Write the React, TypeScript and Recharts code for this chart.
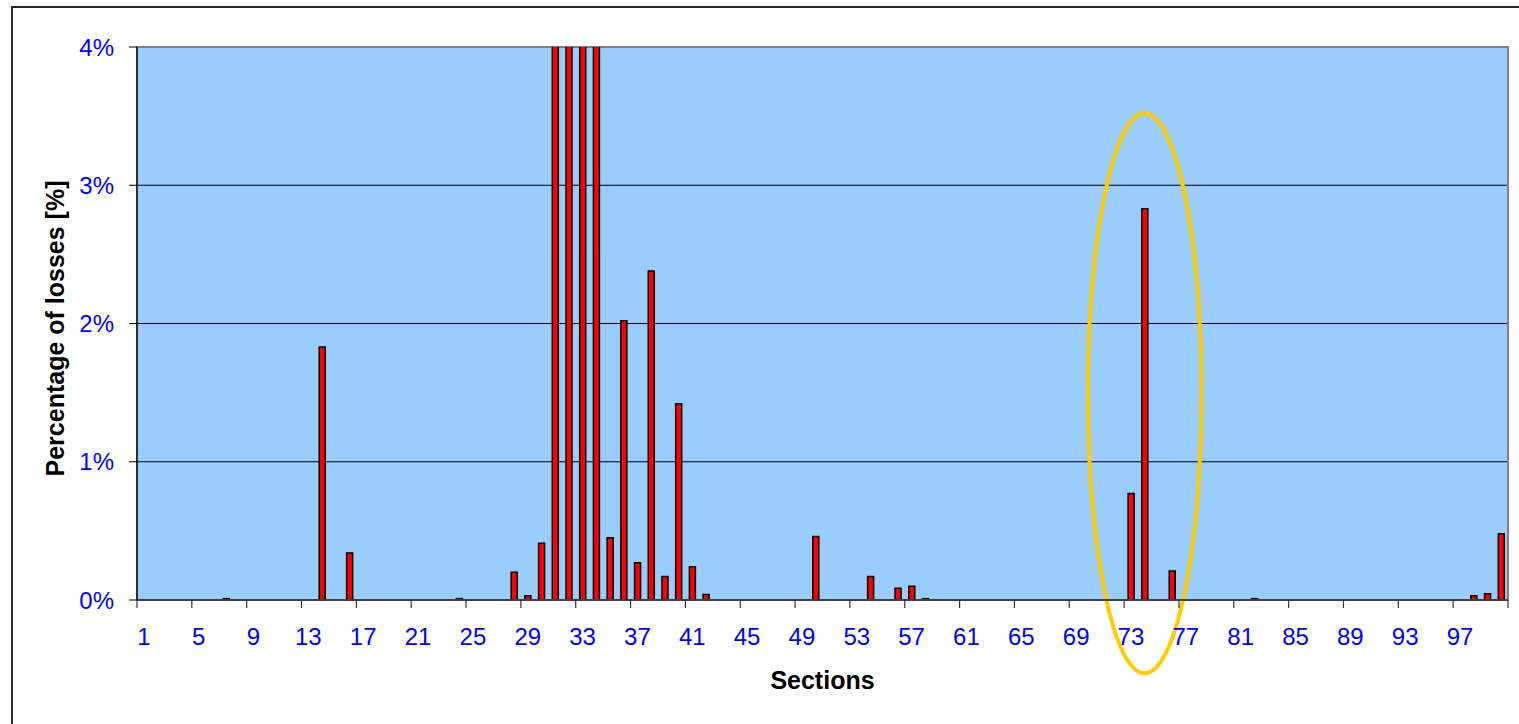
import React from "react";
import { BarChart, Bar, XAxis, YAxis, CartesianGrid, ReferenceArea } from "recharts";

// sections 1..100 along the x axis
const sections = Array.from({ length: 100 }, (_, i) => String(i + 1));

// percentage of losses per section (31-34 run off the top of the scale)
const losses = [
  0, 0, 0, 0, 0, 0, 0.01, 0, 0, 0,
  0, 0, 0, 1.83, 0, 0.34, 0, 0, 0, 0,
  0, 0, 0, 0.01, 0, 0, 0, 0.2, 0.03, 0.41,
  4.5, 4.5, 4.5, 4.5, 0.45, 2.02, 0.27, 2.38, 0.17, 1.42,
  0.24, 0.04, 0, 0, 0, 0, 0, 0, 0, 0.46,
  0, 0, 0, 0.17, 0, 0.085, 0.1, 0.01, 0, 0,
  0, 0, 0, 0, 0, 0, 0, 0, 0, 0,
  0, 0, 0.77, 2.83, 0, 0.21, 0, 0, 0, 0,
  0, 0.01, 0, 0, 0, 0, 0, 0, 0, 0,
  0, 0, 0, 0, 0, 0, 0, 0.03, 0.045, 0.48,
];

const yTicks = [0, 1, 2, 3, 4];

// highlighted group (sections 70-78) and its vertical reach in %
const highlightFrom = "70";
const highlightTo = "78";
const highlightLow = -0.53;
const highlightHigh = 3.52;

const data = sections.map((s, i) => ({ section: s, loss: losses[i] }));

const W = 1519;
const H = 724;
const margin = { top: 47, right: 11, bottom: 24, left: 10 };
const yAxisWidth = 127;
const xAxisHeight = 100;
const step = (W - margin.left - margin.right - yAxisWidth) / sections.length;

const FONT = '"Liberation Sans", Arial, sans-serif';
const BLUE = "#0000FF";

function XTick(props: any) {
  const { x, y, payload } = props;
  const axisY = y - 8 - 20;
  const left = x - step / 2;
  const isLast = payload.value === sections[sections.length - 4];
  return (
    <g>
      <line x1={left} x2={left} y1={axisY} y2={axisY + 8} stroke="#333" strokeWidth={1.2} />
      {isLast && (
        <line x1={x + step * 3.5} x2={x + step * 3.5} y1={axisY} y2={axisY + 8} stroke="#333" strokeWidth={1.2} />
      )}
      <text x={x} y={y} dy="0.71em" textAnchor="middle" fill={BLUE} fontSize={24} fontFamily={FONT}>
        {payload.value}
      </text>
    </g>
  );
}

export default function App() {
  return (
    <div style={{ position: "absolute", left: 0, top: 0, width: W, height: H, background: "#fff", fontFamily: FONT }}>
      <div
        style={{
          position: "absolute",
          left: 11,
          top: 6,
          width: W - 11,
          height: H - 6,
          borderLeft: "2px solid #333",
          borderTop: "2px solid #222",
          boxSizing: "border-box",
        }}
      />
      <div style={{ position: "absolute", left: 0, top: 0 }}>
        <BarChart width={W} height={H} data={data} margin={margin} barSize={6}>
          <CartesianGrid vertical={false} fill="#99CCFF" stroke="#000" strokeOpacity={1} />
          <ReferenceArea
            x1={sections[0]}
            x2={sections[sections.length - 1]}
            y1={0}
            y2={4}
            fill="none"
            stroke="#808080"
            strokeWidth={2}
            ifOverflow="visible"
          />
          <XAxis
            dataKey="section"
            interval={3}
            height={xAxisHeight}
            tickLine={false}
            tickSize={8}
            tickMargin={20}
            axisLine={{ stroke: "#404040", strokeWidth: 2 }}
            tick={(p: any) => <XTick {...p} />}
            label={{
              content: (p: any) => {
                const vb = p.viewBox;
                return (
                  <text x={vb.x + vb.width / 2} y={689} textAnchor="middle" fontSize={25} fontWeight="bold" fill="#000" fontFamily={FONT}>
                    Sections
                  </text>
                );
              },
            }}
          />
          <YAxis
            domain={[0, 4]}
            ticks={yTicks}
            allowDataOverflow
            width={yAxisWidth}
            tickSize={8}
            tickMargin={15}
            tickFormatter={(v: number) => `${v}%`}
            tick={{ fill: BLUE, fontSize: 24, fontFamily: FONT }}
            tickLine={{ stroke: "#000" }}
            axisLine={{ stroke: "#111", strokeWidth: 1.5 }}
            label={{
              content: (p: any) => {
                const vb = p.viewBox;
                return (
                  <text
                    transform={`translate(64, ${vb.y + vb.height / 2 + 5}) rotate(-90)`}
                    textAnchor="middle"
                    fontSize={25}
                    fontWeight="bold"
                    fill="#000"
                    fontFamily={FONT}
                  >
                    Percentage of losses [%]
                  </text>
                );
              },
            }}
          />
          <Bar dataKey="loss" fill="#FF0000" stroke="#000" strokeWidth={1.5} isAnimationActive={false} />
          <ReferenceArea
            x1={highlightFrom}
            x2={highlightTo}
            y1={highlightLow}
            y2={highlightHigh}
            ifOverflow="visible"
            shape={(p: any) => (
              <ellipse
                cx={p.x + p.width / 2}
                cy={p.y + p.height / 2}
                rx={(Math.abs(p.width) / 2) * 0.92}
                ry={Math.abs(p.height) / 2}
                fill="none"
                stroke="#FFCC00"
                strokeWidth={4}
              />
            )}
          />
        </BarChart>
      </div>
    </div>
  );
}
